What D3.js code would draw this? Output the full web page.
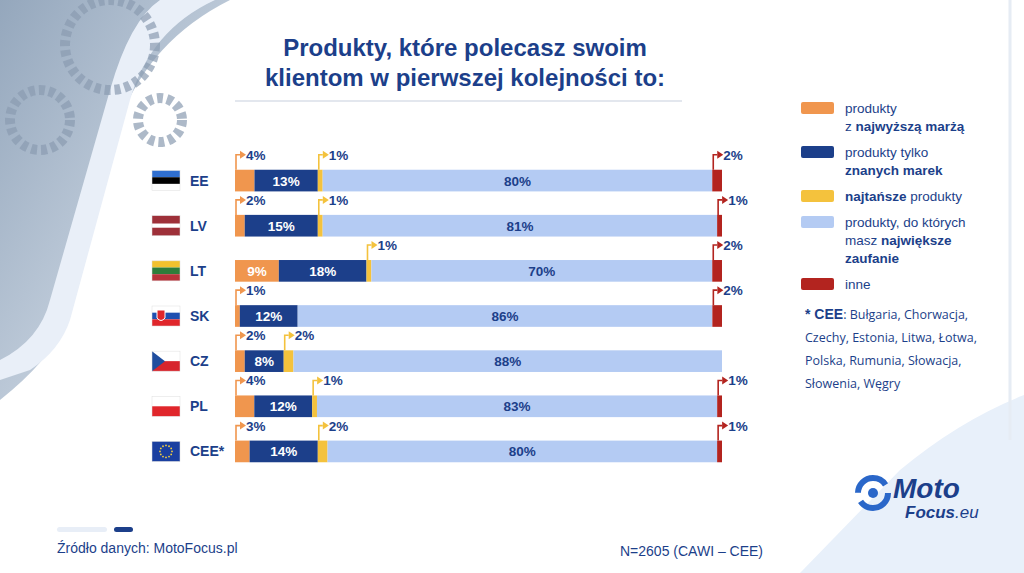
<!DOCTYPE html><html><head><meta charset="utf-8"><script src="https://cdn.jsdelivr.net/npm/d3@7"></script>
<style>body{margin:0;background:#fff}svg{font-family:Arial,"Liberation Sans",sans-serif}</style></head><body>
<svg id="c" width="1024" height="573"></svg>
<script>
const categories=["EE","LV","LT","SK","CZ","PL","CEE*"];
const seriesNames=["produkty z najwyższą marżą","produkty tylko znanych marek","najtańsze produkty","produkty, do których masz największe zaufanie","inne"];
const orange=[4,2,9,1,2,4,3];
const navy=[13,15,18,12,8,12,14];
const yellow=[1,1,1,0,2,1,2];
const light=[80,81,70,86,88,83,80];
const red=[2,1,2,2,0,1,1];
const colors=["#f0964e","#1c3f8a","#f4c23d","#b4cbf3","#b3241f"];
const series=[orange,navy,yellow,light,red];
const svg=d3.select("#c");
const defs=svg.append("defs");
const g1=defs.append("linearGradient").attr("id","gr").attr("x1",0).attr("y1",0).attr("x2",1).attr("y2",1);
g1.append("stop").attr("offset",0).attr("stop-color","#3d5f86");g1.append("stop").attr("offset",1).attr("stop-color","#c9d6e6");
svg.append("path").attr("d","M0,0 L230,0 Q150,40 120,120 L60,330 Q50,360 0,400 Z").attr("fill","url(#gr)").attr("opacity",0.55);
svg.append("path").attr("d","M160,0 L215,0 Q150,30 130,100 L70,320 Q60,350 30,370 L0,380 L0,360 Q40,340 50,300 L110,90 Q130,20 160,0Z").attr("fill","#e9eff8");
[[110,45,45],[40,120,30],[160,120,22]].forEach(([x,y,r])=>{svg.append("circle").attr("cx",x).attr("cy",y).attr("r",r).attr("fill","none").attr("stroke","#8a9bb0").attr("stroke-width",10).attr("stroke-dasharray","6 4").attr("opacity",0.7);});
svg.append("path").attr("d","M1024,395 Q960,420 900,470 L800,573 L1024,573Z").attr("fill","#e8f0fa");
svg.append("line").attr("x1",1010).attr("y1",0).attr("x2",1010).attr("y2",440).attr("stroke","#e6ecf4").attr("stroke-width",3);
const tt=svg.append("text").attr("x",465).attr("text-anchor","middle").attr("fill","#1c3f8a").attr("font-weight","bold").attr("font-size",24);
tt.append("tspan").attr("x",465).attr("y",56).text("Produkty, które polecasz swoim");
tt.append("tspan").attr("x",465).attr("y",86).text("klientom w pierwszej kolejności to:");
svg.append("line").attr("x1",235).attr("x2",682).attr("y1",101).attr("y2",101).attr("stroke","#e3e7ee").attr("stroke-width",2);
const y=d3.scaleBand().domain(categories).range([158,474]).paddingInner(0.52).paddingOuter(0.26);
const bh=y.bandwidth();
categories.forEach((c,i)=>{
  const total=d3.sum(series,s=>s[i]);
  const x=d3.scaleLinear().domain([0,Math.max(100,total)]).range([235,722]);
  let acc=0;const yy=y(c);
  series.forEach((s,j)=>{
    const v=s[i];const x0=x(acc),x1=x(acc+v);acc+=v;
    if(v<=0)return;
    const w=Math.max(j===4?4:3,x1-x0);
    svg.append("rect").attr("x",x0).attr("y",yy).attr("width",w).attr("height",bh).attr("fill",colors[j]);
    const lbl=v+"%";
    const big=(j===1||j===3||(j===0&&v>=8));
    if(big){svg.append("text").attr("x",(x0+x1)/2).attr("y",yy+bh/2+5).attr("text-anchor","middle").attr("font-weight","bold").attr("font-size",13.5).attr("fill",j===3?"#1c3f8a":"#fff").text(lbl);}
    else{
      const cc=j===0?"#f0964e":j===2?"#f4c23d":"#b3241f";
      const lx=x0+1, ty=yy-15;
      svg.append("path").attr("d",`M${lx},${yy} L${lx},${ty} L${lx+4},${ty}`).attr("fill","none").attr("stroke",cc).attr("stroke-width",1.6);
      svg.append("path").attr("d",`M${lx+4},${ty-4} L${lx+10},${ty} L${lx+4},${ty+4}Z`).attr("fill",cc);
      svg.append("text").attr("x",lx+10).attr("y",ty+5).attr("font-weight","bold").attr("font-size",13.5).attr("fill","#1c3f8a").text(lbl);
    }
  });
  svg.append("text").attr("x",190).attr("y",yy+bh/2+5).attr("font-weight","bold").attr("font-size",14).attr("fill","#1c3f8a").text(c);
  const fx=152,fy=yy+bh/2-10,fw=28,fh=20;
  const flags={EE:["#2f6fd0","#000","#fff"],LV:["#9e3039","#fff","#9e3039"],LT:["#f2c12e","#2e7d3a","#b8323a"],SK:["#fff","#1f4fb0","#e0262b"],PL:["#fff","#fff","#e0262b"]};
  if(flags[c]){const f=flags[c];const hs=c==="LV"?[8,4,8]:(c==="PL"?[5,5,10]:[6.67,6.67,6.67]);let o=0;f.forEach((col,k)=>{svg.append("rect").attr("x",fx).attr("y",fy+o).attr("width",fw).attr("height",hs[k]).attr("fill",col);o+=hs[k];});
    if(c==="SK")svg.append("path").attr("d",`M${fx+5},${fy+4} h8 v8 q-4,5 -8,0z`).attr("fill","#e0262b").attr("stroke","#fff");}
  else if(c==="CZ"){svg.append("rect").attr("x",fx).attr("y",fy).attr("width",fw).attr("height",10).attr("fill","#fff");svg.append("rect").attr("x",fx).attr("y",fy+10).attr("width",fw).attr("height",10).attr("fill","#d7252d");svg.append("path").attr("d",`M${fx},${fy} L${fx+13},${fy+10} L${fx},${fy+20}Z`).attr("fill","#1f4d9e");}
  else{svg.append("rect").attr("x",fx).attr("y",fy).attr("width",fw).attr("height",fh).attr("fill","#1a3fa0");d3.range(12).forEach(k=>{const a=k*Math.PI/6;svg.append("circle").attr("cx",fx+14+6*Math.cos(a)).attr("cy",fy+10+6*Math.sin(a)).attr("r",0.9).attr("fill","#f4d03f");});}
  svg.append("rect").attr("x",fx).attr("y",fy).attr("width",fw).attr("height",fh).attr("fill","none").attr("stroke","#ddd").attr("stroke-width",0.5);
});
const legY=[108,152,196,222,284];
const legLines=[
 [[["produkty",0]],[["z ",0],["najwyższą marżą",1]]],
 [[["produkty tylko",0]],[["znanych marek",1]]],
 [[["najtańsze",1],[" produkty",0]]],
 [[["produkty, do których",0]],[["masz ",0],["największe",1]],[["zaufanie",1]]],
 [[["inne",0]]]];
legLines.forEach((lines,i)=>{
  svg.append("rect").attr("x",801).attr("y",legY[i]-6).attr("width",33).attr("height",12).attr("rx",2).attr("fill",colors[i]);
  lines.forEach((ln,k)=>{const t=svg.append("text").attr("x",845).attr("y",legY[i]+5+k*18).attr("font-size",13.5).attr("fill","#1c3f8a");
    ln.forEach(([s,b])=>t.append("tspan").attr("font-weight",b?"bold":"normal").text(s));});
});
const cee=["Bułgaria, Chorwacja,","Czechy, Estonia, Litwa, Łotwa,","Polska, Rumunia, Słowacja,","Słowenia, Węgry"];
cee.forEach((s,k)=>{const t=svg.append("text").attr("x",805).attr("y",319+k*23).attr("font-size",12.5).attr("fill","#1c3f8a").attr("font-family","'Open Sans',sans-serif");
  if(k===0){t.append("tspan").attr("font-weight","bold").attr("font-size",14).attr("font-family","Arial,sans-serif").text("* CEE");t.append("tspan").text(": ");}
  t.append("tspan").text(s);});
svg.append("rect").attr("x",57).attr("y",527).attr("width",50).attr("height",5).attr("rx",2.5).attr("fill","#e8eef7");
svg.append("rect").attr("x",114).attr("y",527).attr("width",19).attr("height",5).attr("rx",2.5).attr("fill","#1c3f8a");
svg.append("text").attr("x",57).attr("y",553).attr("font-size",14).attr("fill","#1c3f8a").text("Źródło danych: MotoFocus.pl");
svg.append("text").attr("x",620).attr("y",556).attr("font-size",14).attr("fill","#1c3f8a").text("N=2605 (CAWI – CEE)");
svg.append("circle").attr("cx",873).attr("cy",493).attr("r",15).attr("fill","none").attr("stroke","#2a67c9").attr("stroke-width",6).attr("stroke-dasharray","38 9");
svg.append("circle").attr("cx",873).attr("cy",493).attr("r",5).attr("fill","#2a67c9");
svg.append("text").attr("x",893).attr("y",498).attr("font-size",28).attr("font-weight","bold").attr("font-style","italic").attr("fill","#1c3f8a").text("Moto");
const lt=svg.append("text").attr("x",905).attr("y",518).attr("font-size",17).attr("font-weight","bold").attr("font-style","italic").attr("fill","#1c3f8a");
lt.append("tspan").text("Focus");lt.append("tspan").attr("font-weight","normal").text(".eu");
</script></body></html>
